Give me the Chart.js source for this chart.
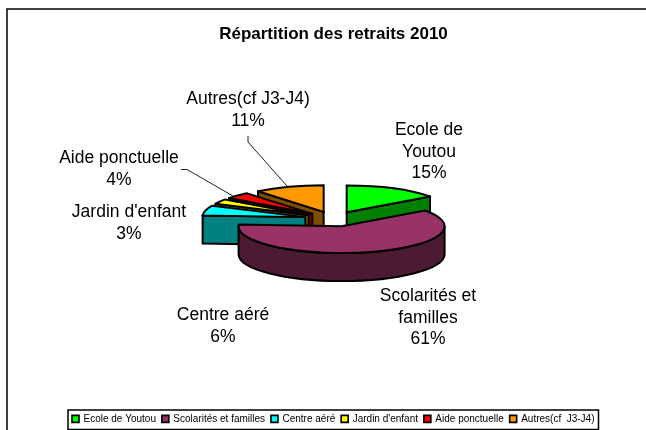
<!DOCTYPE html>
<html>
<head>
<meta charset="utf-8">
<style>
html,body{margin:0;padding:0;background:#fff;width:646px;height:430px;overflow:hidden}
#wrap{width:646px;height:430px;overflow:hidden;position:relative}
canvas{display:block;position:absolute;left:0;top:0}
</style>
<script src="https://cdn.jsdelivr.net/npm/chart.js@4"></script>
</head>
<body>
<div id="wrap"><canvas id="c" width="667" height="430" style="width:667px;height:430px"></canvas></div>
<script>
const titleText = "Répartition des retraits 2010";
const categories = ["Ecole de Youtou","Scolarités et familles","Centre aéré","Jardin d'enfant","Aide ponctuelle","Autres(cf  J3-J4)"];
const percentages = [15,61,6,3,4,11];
const topColors = ["#00FF00","#993366","#00FFFF","#FFFF00","#FF0000","#FF9900"];
const wallColors = ["#008000","#4D1A33","#008080","#808000","#800000","#804C00"];
const labelLines = [["Ecole de","Youtou"],["Scolarités et","familles"],["Centre aéré"],["Jardin d'enfant"],["Aide ponctuelle"],["Autres(cf J3-J4)"]];
const labelAnchors = [[429,130.5],[428,296.5],[223,315.5],[129,212.5],[119,158.5],[248,99.5]];
const leaderLines = [[[181,169.5],[187,169.5],[233,196]],[[248,136],[248,142],[287,186]]];

const PIE_Y = 219, RADIUS = 103, SQUASH = 0.26, DEPTH = 28, EXPLODE = 29, OUTLINE = 2;
const LABEL_FONT = '17.5px "Liberation Sans", Arial, sans-serif';
const LINE_H = 21.5;
const LEGEND_TOP = 407.5;

function geom(el){
  const mid=(el.startAngle+el.endAngle)/2;
  return {cx:el.x+Math.cos(mid)*EXPLODE, cy:PIE_Y+Math.sin(mid)*EXPLODE*SQUASH,
          rx:el.outerRadius, ry:el.outerRadius*SQUASH, a:el.startAngle, b:el.endAngle};
}
function rim(g,t){return [g.cx+Math.cos(t)*g.rx, g.cy+Math.sin(t)*g.ry];}
function outlineStyle(ctx){ctx.lineWidth=OUTLINE;ctx.lineJoin='miter';ctx.miterLimit=3;ctx.strokeStyle='#000';}
const pie3d = {
  id:'pie3d',
  beforeDatasetDraw(chart){
    const ctx=chart.ctx, arcs=chart.getDatasetMeta(0).data;
    ctx.save();
    outlineStyle(ctx);
    [5,4,3,2,0,1].forEach(i=>{
      const g=geom(arcs[i]); ctx.fillStyle=wallColors[i];
      const radial=t=>{
        const p=rim(g,t);
        ctx.beginPath(); ctx.moveTo(g.cx,g.cy); ctx.lineTo(p[0],p[1]);
        ctx.lineTo(p[0],p[1]+DEPTH); ctx.lineTo(g.cx,g.cy+DEPTH); ctx.closePath();
        ctx.fill(); ctx.stroke();
      };
      // the start edge faces the viewer on the left half, the end edge on the right half
      if(Math.cos(g.a)<-1e-6) radial(g.a);
      if(Math.cos(g.b)>1e-6) radial(g.b);
      const f0=Math.max(g.a,0), f1=Math.min(g.b,Math.PI);
      if(f1>f0){
        ctx.beginPath();
        ctx.ellipse(g.cx,g.cy,g.rx,g.ry,0,f0,f1);
        ctx.ellipse(g.cx,g.cy+DEPTH,g.rx,g.ry,0,f1,f0,true);
        ctx.closePath(); ctx.fill(); ctx.stroke();
      }
    });
    ctx.restore();
    // top faces: the library's own arcs, squashed and moved apart
    arcs.forEach(el=>{
      const g=geom(el);
      ctx.save();
      ctx.translate(g.cx,g.cy); ctx.scale(1,SQUASH); ctx.translate(-el.x,-el.y);
      el.draw(ctx);
      ctx.restore();
    });
    return false;
  },
  afterDatasetsDraw(chart){
    const ctx=chart.ctx, arcs=chart.getDatasetMeta(0).data;
    ctx.save();
    outlineStyle(ctx);
    arcs.forEach(el=>{
      const g=geom(el);
      ctx.beginPath(); ctx.moveTo(g.cx,g.cy);
      ctx.ellipse(g.cx,g.cy,g.rx,g.ry,0,g.a,g.b);
      ctx.closePath(); ctx.stroke();
    });
    ctx.lineWidth=1; ctx.strokeStyle='#222';
    leaderLines.forEach(l=>{
      ctx.beginPath(); l.forEach((p,k)=>k?ctx.lineTo(p[0],p[1]):ctx.moveTo(p[0],p[1])); ctx.stroke();
    });
    ctx.fillStyle='#000'; ctx.font=LABEL_FONT; ctx.textAlign='center'; ctx.textBaseline='middle';
    categories.forEach((c,i)=>{
      const lines=labelLines[i].concat(percentages[i]+'%');
      lines.forEach((t,k)=>ctx.fillText(t,labelAnchors[i][0],labelAnchors[i][1]+k*LINE_H));
    });
    ctx.restore();
  },
  afterLayout(chart){
    // the legend strip sits at the very bottom of the frame
    const lg=chart.legend, h=lg.bottom-lg.top;
    lg.top=LEGEND_TOP; lg.bottom=LEGEND_TOP+h;
  },
  beforeDraw(chart){
    const ctx=chart.ctx;
    ctx.save();
    ctx.strokeStyle='#000'; ctx.lineWidth=1.5;
    ctx.strokeRect(7,9,chart.width-14,chart.height+20);
    ctx.strokeRect(68,410,530.5,19.5);
    ctx.restore();
  }
};
new Chart(document.getElementById('c'),{
  type:'pie',
  plugins:[pie3d],
  data:{labels:categories,datasets:[{
    data:percentages,backgroundColor:topColors,borderWidth:0,clip:false
  }]},
  options:{
    responsive:false,animation:false,events:[],
    radius:RADIUS,
    layout:{padding:{top:24,bottom:1}},
    plugins:{
      tooltip:{enabled:false},
      title:{display:true,text:titleText,color:'#000',align:'center',
        font:{family:'"Liberation Sans", Arial, sans-serif',size:17,weight:'bold'},padding:{top:0,bottom:10}},
      legend:{display:true,position:'bottom',
        labels:{color:'#000',font:{family:'"Liberation Sans", Arial, sans-serif',size:10},
          usePointStyle:true,pointStyle:'rect',boxWidth:6,boxHeight:7,padding:6.4,
          generateLabels:()=>categories.map((c,i)=>({text:c,fillStyle:topColors[i],strokeStyle:'#000',lineWidth:1.6,pointStyle:'rect',index:i,hidden:false}))
        }
      }
    }
  }
});
</script>
</body>
</html>
